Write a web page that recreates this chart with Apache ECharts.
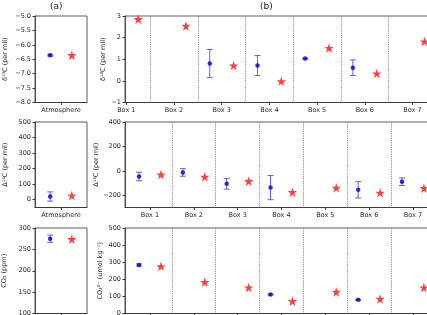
<!DOCTYPE html>
<html>
<head>
<meta charset="utf-8">
<script src="https://cdn.jsdelivr.net/npm/echarts@6/dist/echarts.min.js"></script>
<style>
  html, body { margin: 0; padding: 0; background: #fff; }
  #main { width: 427px; height: 315px; }
</style>
</head>
<body>
<div id="main"></div>
<script>
// box positions along the ocean axis
var boxTicks = [1, 2, 3, 4, 5, 6, 7];
var boxNames = ["Box 1", "Box 2", "Box 3", "Box 4", "Box 5", "Box 6", "Box 7"];
var boxDividers = [1.5, 2.5, 3.5, 4.5, 5.5, 6.5];

// row 1: delta 13C (per mil)
var d13cAtmObs = [-6.36];
var d13cAtmErr = [0.03];
var d13cAtmModel = [-6.36];
var d13cBoxObs = [null, null, 0.80, 0.71, 1.03, 0.61, null];
var d13cBoxErr = [null, null, 0.65, 0.46, 0.02, 0.36, null];
var d13cBoxModel = [2.85, 2.54, 0.71, -0.02, 1.52, 0.34, 1.82];
var d13cAtmTicks = [-8, -7.5, -7, -6.5, -6, -5.5, -5];
var d13cBoxTicks = [-1, 0, 1, 2, 3];

// row 2: Delta 14C (per mil)
var d14cAtmObs = [18];
var d14cAtmErr = [30];
var d14cAtmModel = [24];
var d14cBoxObs = [-46, -13, -106, -137, null, -155, -89];
var d14cBoxErr = [35, 31, 44, 99, null, 67, 31];
var d14cBoxModel = [-30, -49, -85, -175, -139, -180, -142];
var d14cAtmTicks = [0, 100, 200, 300, 400, 500];
var d14cBoxTicks = [-200, 0, 200, 400];

// row 3: CO2 (ppm) and carbonate ion (umol/kg)
var co2AtmObs = [275];
var co2AtmErr = [8.5];
var co2AtmModel = [274];
var co3BoxObs = [284, null, null, 111, null, 80, null];
var co3BoxErr = [6, null, null, 4, null, 3, null];
var co3BoxModel = [276, 183, 152, 72, 126, 85, 152];
var co2AtmTicks = [100, 150, 200, 250, 300];
var co3BoxTicks = [0, 100, 200, 300, 400, 500];

var FONT = "DejaVu Sans";
var OBS_COLOR = "#0000cc";
var ERR_COLOR = "#5f5fee";
var MODEL_COLOR = "#ff0f0f";
var STAR = "path://M50,0 L61.8,35.1 L98.9,35.1 L69.1,56.7 L80.9,91.9 L50,70.3 L19.1,91.9 L30.9,56.7 L1.1,35.1 L38.2,35.1 Z";
var SHIFT = 0.25;

function pts(xs, vals, dx) {
  var out = [];
  vals.forEach(function (v, i) { if (v != null) out.push([xs[i] + dx, v]); });
  return out;
}
function errs(xs, vals, e, dx) {
  var out = [];
  vals.forEach(function (v, i) { if (v != null) out.push([xs[i] + dx, v - e[i], v + e[i]]); });
  return out;
}
function minus(v) { return String(v).replace("-", "\u2212"); }

var gridPos = [
  { left: 35, top: 16, width: 52, height: 86.5 },
  { left: 125, top: 16, width: 310, height: 86.5 },
  { left: 35, top: 122, width: 52, height: 85.5 },
  { left: 125, top: 122, width: 310, height: 85.5 },
  { left: 35, top: 228, width: 52, height: 85.5 },
  { left: 125, top: 228, width: 310, height: 85.5 }
];
var grids = gridPos.map(function (g) {
  return Object.assign({ show: true, borderColor: "#333", borderWidth: 0.8, outerBoundsMode: "none", containLabel: false }, g);
});

function xAxisAtm(i) {
  return {
    type: "value", gridIndex: i, min: -0.6, max: 0.6,
    splitLine: { show: false },
    axisLine: { onZero: false, lineStyle: { color: "#333", width: 0.8 } },
    axisTick: { customValues: [0], length: 2.5, lineStyle: { color: "#333" } },
    axisLabel: { customValues: [0], formatter: function () { return "Atmosphere"; },
      fontFamily: FONT, fontSize: 6.5, color: "#222", margin: 4 }
  };
}
function xAxisBox(i, min, max) {
  return {
    type: "value", gridIndex: i, min: min, max: max,
    splitLine: { show: false },
    axisLine: { onZero: false, lineStyle: { color: "#333", width: 0.8 } },
    axisTick: { customValues: boxTicks, length: 2.5, lineStyle: { color: "#333" } },
    axisLabel: { customValues: boxTicks, formatter: function (v) { return boxNames[boxTicks.indexOf(v)]; },
      fontFamily: FONT, fontSize: 6.5, color: "#222", margin: 4 }
  };
}
function yAxis(i, min, max, ticks, name, gap, digits) {
  return {
    type: "value", gridIndex: i, min: min, max: max,
    name: name, nameLocation: "middle", nameGap: gap, nameMoveOverlap: false,
    nameTextStyle: { fontFamily: FONT, fontSize: 6.5, color: "#222" },
    splitLine: { show: false },
    axisLine: { show: true, onZero: false, lineStyle: { color: "#333", width: 0.8 } },
    axisTick: { show: true, customValues: ticks, length: 2.5, lineStyle: { color: "#333" } },
    axisLabel: { customValues: ticks, fontFamily: FONT, fontSize: 6.5, color: "#222", margin: 4,
      formatter: function (v) { return minus(digits ? v.toFixed(digits) : v); } }
  };
}

function errSeries(i, data) {
  return {
    type: "custom", xAxisIndex: i, yAxisIndex: i, z: 2, silent: true,
    encode: { x: 0, y: [1, 2] },
    renderItem: function (params, api) {
      var x = api.value(0);
      var a = api.coord([x, api.value(1)]);
      var b = api.coord([x, api.value(2)]);
      var c = 3;
      var st = { stroke: ERR_COLOR, lineWidth: 1 };
      return { type: "group", children: [
        { type: "line", shape: { x1: a[0], y1: a[1], x2: b[0], y2: b[1] }, style: st },
        { type: "line", shape: { x1: a[0] - c, y1: a[1], x2: a[0] + c, y2: a[1] }, style: st },
        { type: "line", shape: { x1: b[0] - c, y1: b[1], x2: b[0] + c, y2: b[1] }, style: st }
      ] };
    },
    data: data
  };
}
function obsSeries(i, data) {
  return { type: "scatter", xAxisIndex: i, yAxisIndex: i, z: 3, symbolSize: 4.5,
    itemStyle: { color: OBS_COLOR }, data: data };
}
function modelSeries(i, data, dividers) {
  var s = { type: "scatter", xAxisIndex: i, yAxisIndex: i, z: 4, symbol: STAR, symbolSize: 9.5,
    itemStyle: { color: MODEL_COLOR }, data: data };
  if (dividers) {
    s.markLine = { silent: true, symbol: ["none", "none"], label: { show: false },
      lineStyle: { type: "dotted", color: "#777", width: 0.9 },
      data: dividers.map(function (v) { return { xAxis: v }; }) };
  }
  return s;
}

var atm = [0];
var chart = echarts.init(document.getElementById("main"));
chart.setOption({
  animation: false,
  backgroundColor: "#fff",
  grid: grids,
  graphic: [
    { type: "text", left: 50, top: 2, style: { text: "(a)", font: "9px DejaVu Sans", fill: "#222" } },
    { type: "text", left: 260, top: 2, style: { text: "(b)", font: "9px DejaVu Sans", fill: "#222" } }
  ],
  xAxis: [
    xAxisAtm(0), xAxisBox(1, 0.973, 7.472),
    xAxisAtm(2), xAxisBox(3, 0.43, 7.503),
    xAxisAtm(4), xAxisBox(5, 0.43, 7.503)
  ],
  yAxis: [
    yAxis(0, -8, -5, d13cAtmTicks, "\u03b4\u00b9\u00b3C (per mil)", 26, 1),
    yAxis(1, -1, 3, d13cBoxTicks, "\u03b4\u00b9\u00b3C (per mil)", 18, 0),
    yAxis(2, -53, 500, d14cAtmTicks, "\u0394\u00b9\u2074C (per mil)", 26, 0),
    yAxis(3, -300, 400, d14cBoxTicks, "\u0394\u00b9\u2074C (per mil)", 25, 0),
    yAxis(4, 100, 300, co2AtmTicks, "CO\u2082 (ppm)", 27, 0),
    yAxis(5, 0, 500, co3BoxTicks, "CO\u2083\u00b2\u207b (umol kg\u207b\u00b9)", 21, 0)
  ],
  series: [
    errSeries(0, errs(atm, d13cAtmObs, d13cAtmErr, -SHIFT)),
    obsSeries(0, pts(atm, d13cAtmObs, -SHIFT)),
    modelSeries(0, pts(atm, d13cAtmModel, SHIFT)),
    errSeries(1, errs(boxTicks, d13cBoxObs, d13cBoxErr, -SHIFT)),
    obsSeries(1, pts(boxTicks, d13cBoxObs, -SHIFT)),
    modelSeries(1, pts(boxTicks, d13cBoxModel, SHIFT), boxDividers),

    errSeries(2, errs(atm, d14cAtmObs, d14cAtmErr, -SHIFT)),
    obsSeries(2, pts(atm, d14cAtmObs, -SHIFT)),
    modelSeries(2, pts(atm, d14cAtmModel, SHIFT)),
    errSeries(3, errs(boxTicks, d14cBoxObs, d14cBoxErr, -SHIFT)),
    obsSeries(3, pts(boxTicks, d14cBoxObs, -SHIFT)),
    modelSeries(3, pts(boxTicks, d14cBoxModel, SHIFT), boxDividers),

    errSeries(4, errs(atm, co2AtmObs, co2AtmErr, -SHIFT)),
    obsSeries(4, pts(atm, co2AtmObs, -SHIFT)),
    modelSeries(4, pts(atm, co2AtmModel, SHIFT)),
    errSeries(5, errs(boxTicks, co3BoxObs, co3BoxErr, -SHIFT)),
    obsSeries(5, pts(boxTicks, co3BoxObs, -SHIFT)),
    modelSeries(5, pts(boxTicks, co3BoxModel, SHIFT), boxDividers)
  ]
});
window.onresize = function () { chart.resize(); };
</script>
</body>
</html>
